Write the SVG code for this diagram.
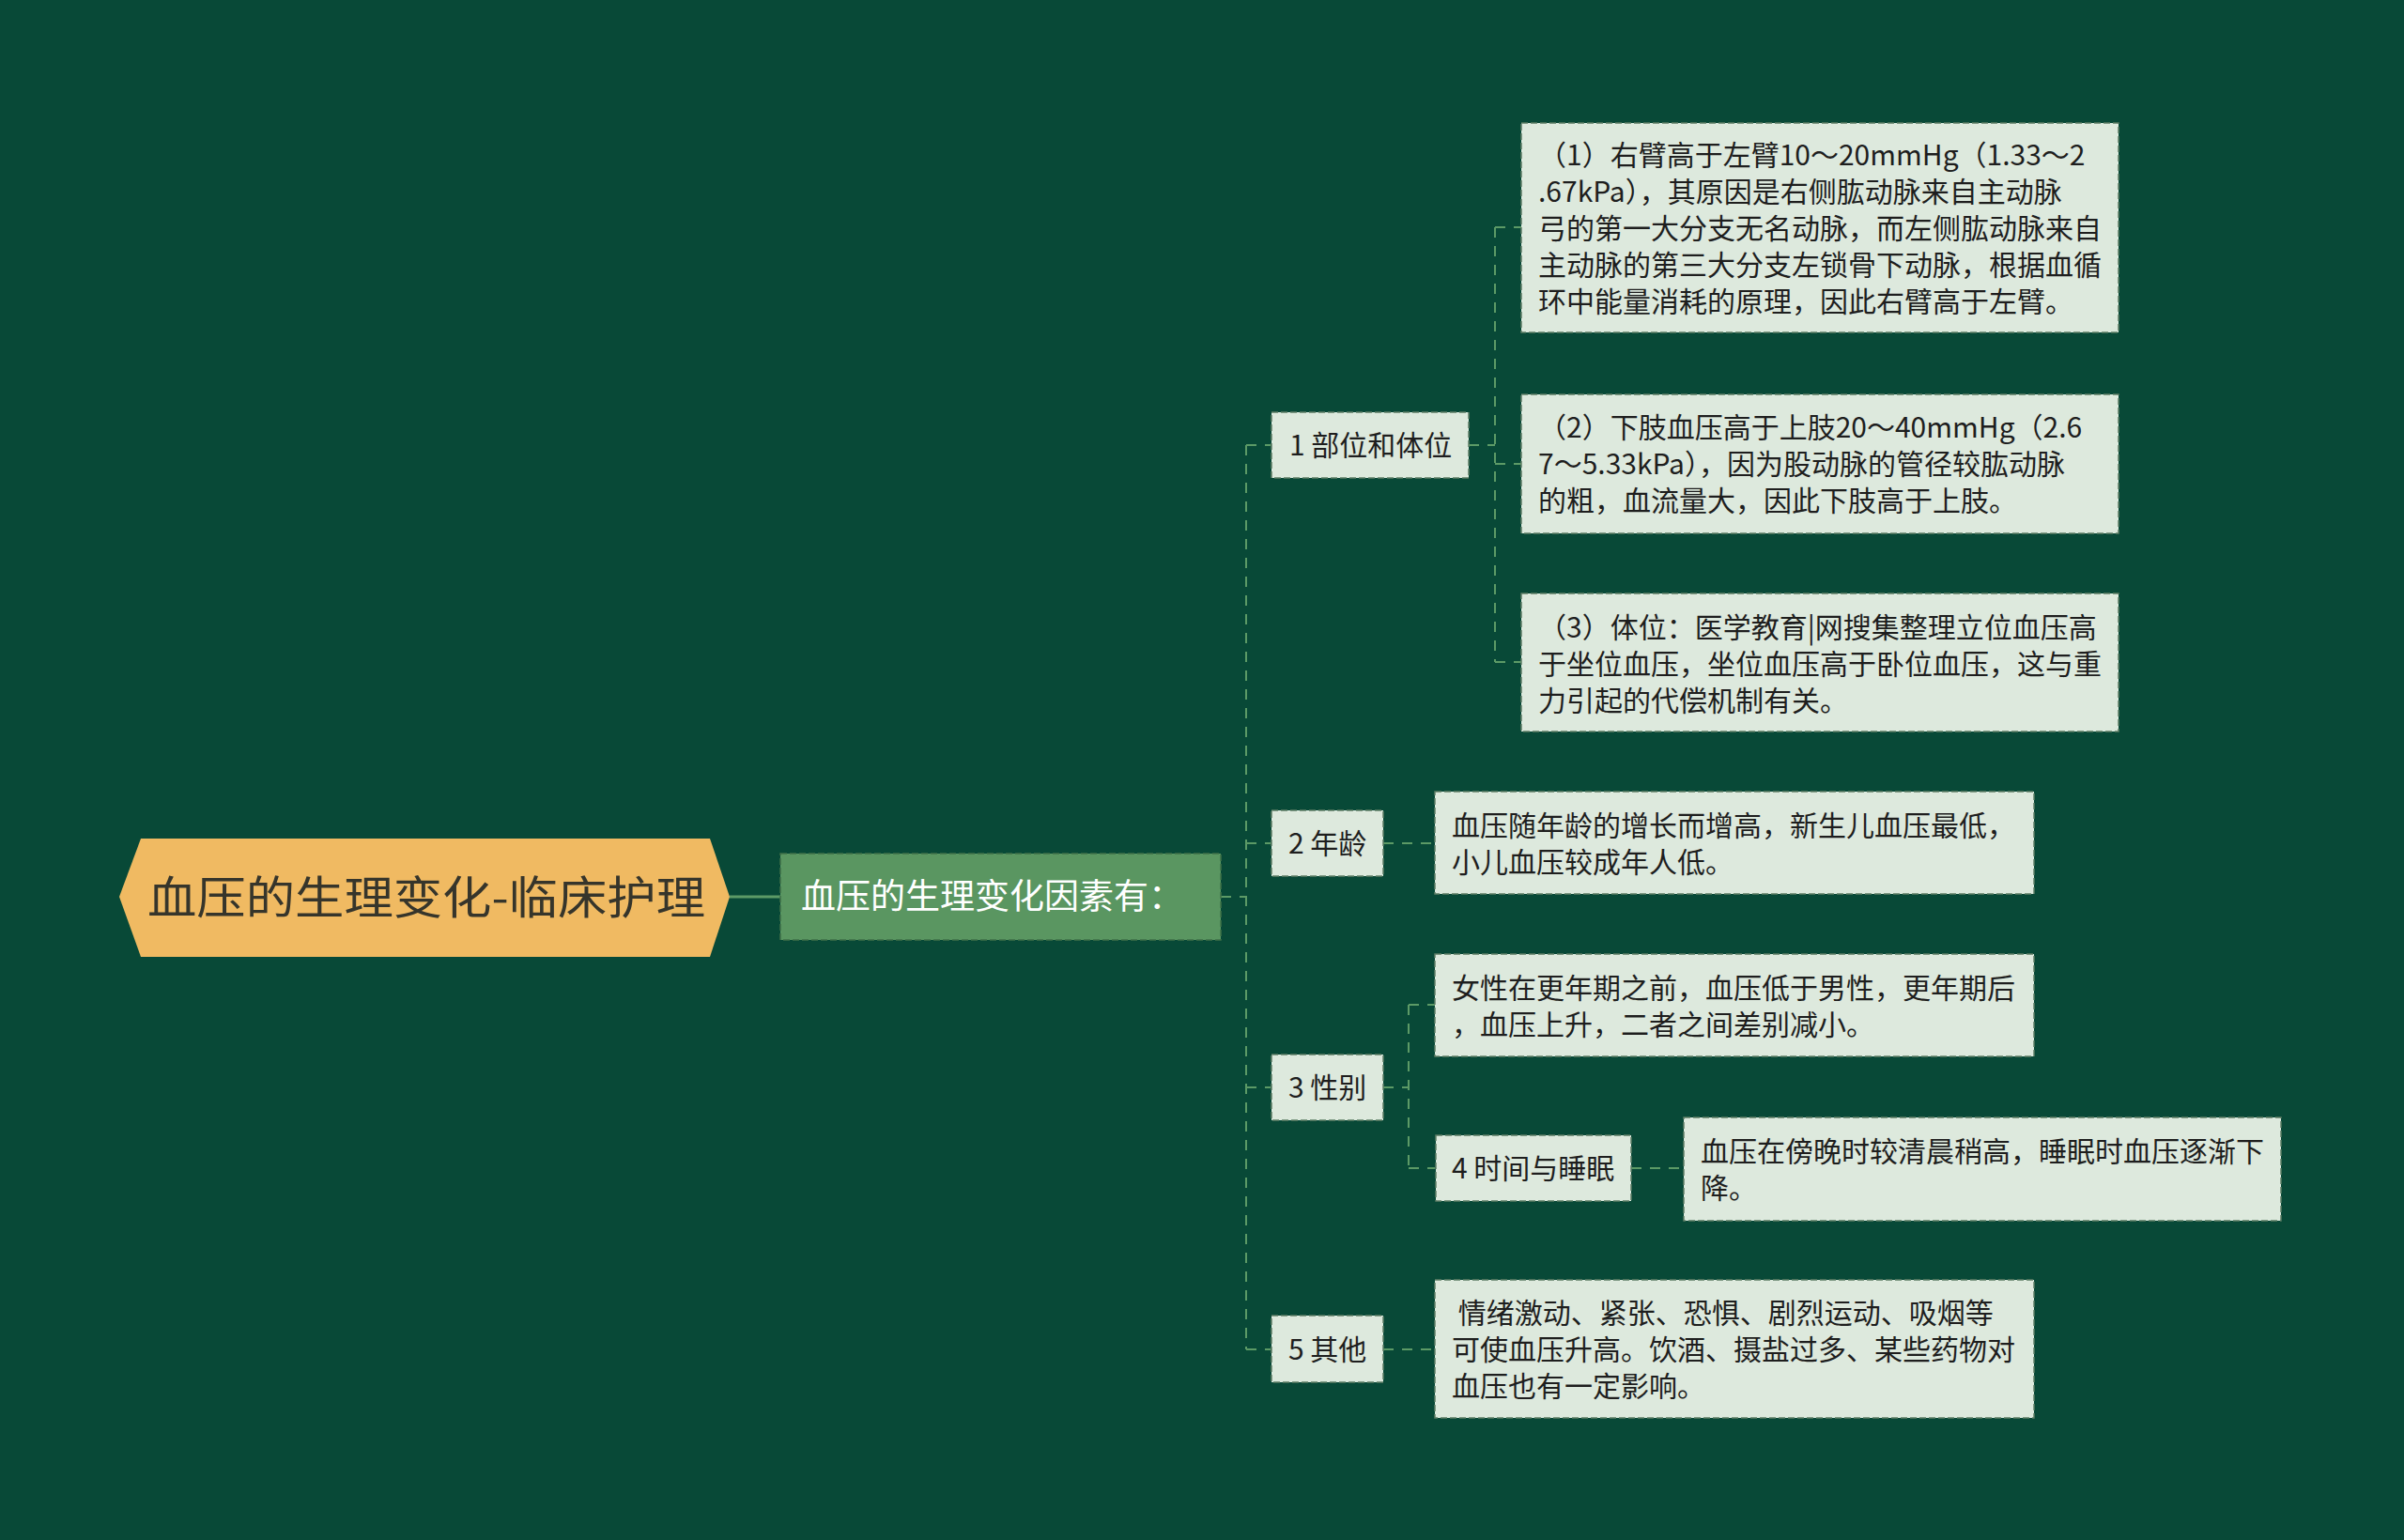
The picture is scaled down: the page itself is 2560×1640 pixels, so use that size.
<svg xmlns="http://www.w3.org/2000/svg" width="2560" height="1640" viewBox="0 0 2560 1640">
<style>
text{font-family:"Noto Sans CJK SC","Noto Sans",sans-serif;white-space:pre}
.lt{fill:#DDE9DD;stroke:#5d7d66;stroke-width:1.5;stroke-dasharray:7 3}
.t2{font-size:30px;fill:#1e1e1e}
.tl{font-size:30px;fill:#1e1e1e}
.cn{fill:none;stroke:#5c9a66;stroke-width:2;stroke-dasharray:11 9}
</style>
<rect width="2560" height="1640" fill="#084937"/>
<g id="connectors">
<path class="cn" d="M777,955 H831" style="stroke-dasharray:none;stroke-width:3"/>
<path class="cn" d="M1300,955 H1327 M1327,474 V1437 M1327,474 H1353 M1327,898 H1353 M1327,1158 H1353 M1327,1437 H1353"/>
<path class="cn" d="M1564,474 H1592 M1592,242 V705 M1592,242 H1620 M1592,494 H1620 M1592,705 H1620"/>
<path class="cn" d="M1473,898 H1528"/>
<path class="cn" d="M1473,1158 H1500 M1500,1070 V1244 M1500,1070 H1528 M1500,1244 H1528"/>
<path class="cn" d="M1737,1244 H1793"/>
<path class="cn" d="M1473,1437 H1528"/>
</g>
<g id="root">
<polygon points="127,955 150,893 756,893 777,955 756,1019 150,1019" fill="#F0BA62"/>
<text x="157" y="973" font-size="48" fill="#36352b" textLength="594" lengthAdjust="spacingAndGlyphs">血压的生理变化-临床护理</text>
</g>
<g id="main">
<rect x="831" y="909" width="469" height="92" fill="#5A9661" stroke="#3f7048" stroke-width="1.5" stroke-dasharray="7 3"/>
<text x="853" y="968" font-size="37" fill="#ffffff">血压的生理变化因素有：</text>
</g>
<g id="n1">
<rect class="lt" x="1354" y="439" width="210" height="70"/>
<text class="t2" x="1373" y="485">1 部位和体位</text>
</g>
<g id="n2">
<rect class="lt" x="1354" y="863" width="119" height="70"/>
<text class="t2" x="1372" y="909">2 年龄</text>
</g>
<g id="n3">
<rect class="lt" x="1354" y="1123" width="119" height="70"/>
<text class="t2" x="1372" y="1169">3 性别</text>
</g>
<g id="n4">
<rect class="lt" x="1529" y="1209" width="208" height="70"/>
<text class="t2" x="1546" y="1255">4 时间与睡眠</text>
</g>
<g id="n5">
<rect class="lt" x="1354" y="1401" width="119" height="71"/>
<text class="t2" x="1372" y="1448">5 其他</text>
</g>
<g id="leaf1">
<rect class="lt" x="1620" y="131" width="636" height="223"/>
<text class="tl" x="1638"><tspan x="1638" y="176">（1）右臂高于左臂10～20mmHg（1.33～2</tspan><tspan x="1638" y="215">.67kPa），其原因是右侧肱动脉来自主动脉</tspan><tspan x="1638" y="254">弓的第一大分支无名动脉，而左侧肱动脉来自</tspan><tspan x="1638" y="293">主动脉的第三大分支左锁骨下动脉，根据血循</tspan><tspan x="1638" y="332">环中能量消耗的原理，因此右臂高于左臂。</tspan></text>
</g>
<g id="leaf2">
<rect class="lt" x="1620" y="420" width="636" height="148"/>
<text class="tl" x="1638"><tspan x="1638" y="466">（2）下肢血压高于上肢20～40mmHg（2.6</tspan><tspan x="1638" y="505">7～5.33kPa），因为股动脉的管径较肱动脉</tspan><tspan x="1638" y="544">的粗，血流量大，因此下肢高于上肢。</tspan></text>
</g>
<g id="leaf3">
<rect class="lt" x="1620" y="632" width="636" height="147"/>
<text class="tl" x="1638"><tspan x="1638" y="679">（3）体位：医学教育|网搜集整理立位血压高</tspan><tspan x="1638" y="718">于坐位血压，坐位血压高于卧位血压，这与重</tspan><tspan x="1638" y="757">力引起的代偿机制有关。</tspan></text>
</g>
<g id="leaf-age">
<rect class="lt" x="1528" y="843" width="638" height="109"/>
<text class="tl" x="1546"><tspan x="1546" y="890">血压随年龄的增长而增高，新生儿血压最低，</tspan><tspan x="1546" y="929">小儿血压较成年人低。</tspan></text>
</g>
<g id="leaf-gender">
<rect class="lt" x="1528" y="1016" width="638" height="109"/>
<text class="tl" x="1546"><tspan x="1546" y="1063">女性在更年期之前，血压低于男性，更年期后</tspan><tspan x="1546" y="1102">，血压上升，二者之间差别减小。</tspan></text>
</g>
<g id="leaf-time">
<rect class="lt" x="1793" y="1190" width="636" height="110"/>
<text class="tl" x="1811"><tspan x="1811" y="1237">血压在傍晚时较清晨稍高，睡眠时血压逐渐下</tspan><tspan x="1811" y="1276">降。</tspan></text>
</g>
<g id="leaf-other">
<rect class="lt" x="1528" y="1363" width="638" height="147"/>
<text class="tl" x="1546"><tspan x="1546" y="1409"> 情绪激动、紧张、恐惧、剧烈运动、吸烟等</tspan><tspan x="1546" y="1448">可使血压升高。饮酒、摄盐过多、某些药物对</tspan><tspan x="1546" y="1487">血压也有一定影响。</tspan></text>
</g>
</svg>
